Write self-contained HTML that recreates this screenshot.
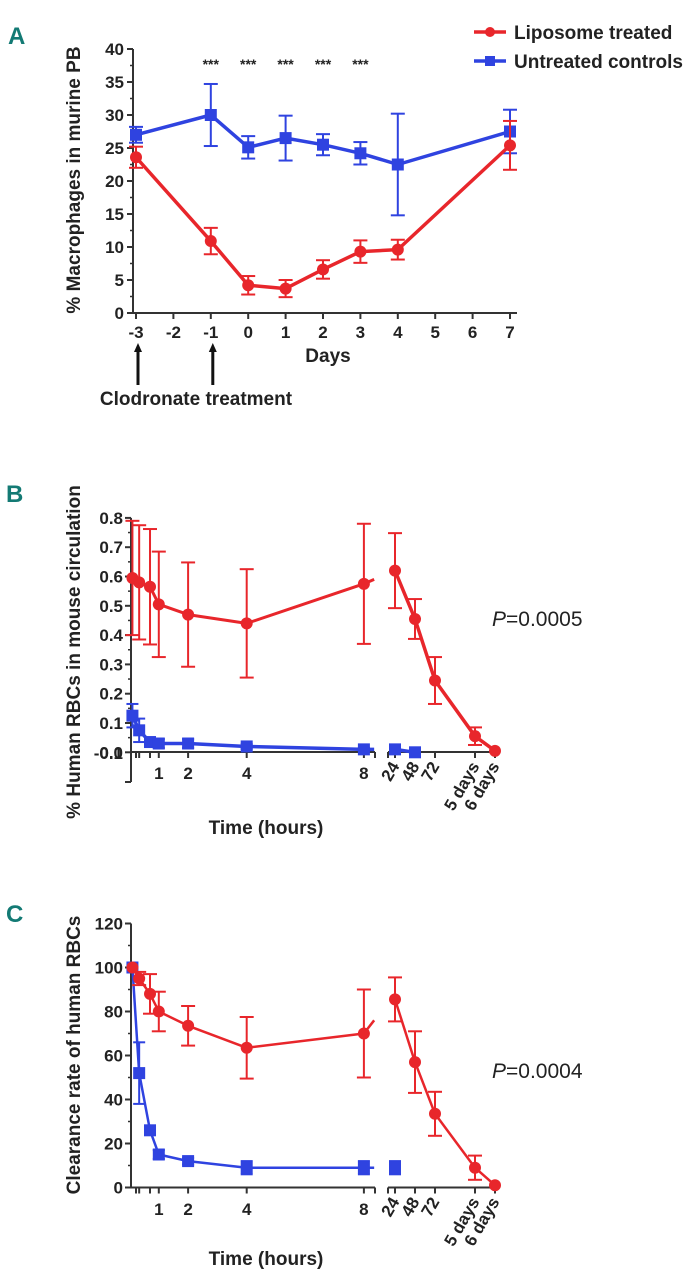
<!DOCTYPE html>
<html><head><meta charset="utf-8"><style>
html,body{margin:0;padding:0;background:#fff;}
svg{display:block;font-family:"Liberation Sans",sans-serif;}
.tk{font-size:17px;font-weight:bold;fill:#222;}
.lab{font-size:19px;font-weight:bold;fill:#222;}
.let{font-size:24px;font-weight:bold;fill:#137a74;}
</style></head><body>
<svg id="fig" width="699" height="1280" viewBox="0 0 699 1280"></svg>
<script>
// ---- Panel A data ----
const aDays = [-3,-1,0,1,2,3,4,7];
const aRed = [23.6,10.9,4.2,3.7,6.6,9.3,9.6,25.4];
const aRedErr = [1.6,2.0,1.4,1.3,1.4,1.7,1.5,3.7];
const aBlue = [27,30,25.1,26.5,25.5,24.2,22.5,27.5];
const aBlueErr = [1.2,4.7,1.7,3.4,1.6,1.7,7.7,3.3];
const aYTicks = [0,5,10,15,20,25,30,35,40];
const aXTicks = [-3,-2,-1,0,1,2,3,4,5,6,7];
const aStarDays = [-1,0,1,2,3];
// ---- Panel B data ----
const bHoursL = [0.1,0.33,0.7,1,2,4,8];
const bRedL = [0.595,0.58,0.565,0.505,0.47,0.44,0.575];
const bRedLErr = [0.195,0.195,0.197,0.18,0.178,0.185,0.205];
const bBlueL = [0.125,0.075,0.035,0.03,0.03,0.02,0.01];
const bBlueLErr = [0.04,0.04,0.01,0.015,0.015,0.008,0.005];
const bHoursR = [24,48,72,120,144];
const bRedR = [0.62,0.455,0.245,0.055,0.005];
const bRedRErr = [0.128,0.068,0.08,0.03,0];
const bBlueHoursR = [24,48];
const bBlueR = [0.01,0.0];
const bYTicks = [0,0.1,0.2,0.3,0.4,0.5,0.6,0.7,0.8];
// ---- Panel C data ----
const cHoursL = [0.1,0.33,0.7,1,2,4,8];
const cRedL = [100,95,88,80,73.5,63.5,70];
const cRedLErr = [0,3,9,9,9,14,20];
const cBlueL = [100,52,26,15,12,9,9];
const cBlueLErr = [0,14,2,2,1.5,3,3];
const cHoursR = [24,48,72,120,144];
const cRedR = [85.5,57,33.5,9,1];
const cRedRErr = [10,14,10,5.5,0];
const cBlueHoursR = [24];
const cBlueR = [9];
const cBlueRErr = [3];
const cYTicks = [0,20,40,60,80,100,120];
const leftHourTicks = [1,2,4,8];
const rightTickLabels = ["24","48","72","5 days","6 days"];

const NS="http://www.w3.org/2000/svg";
const svg=document.getElementById('fig');
const RED="#e8262b", BLUE="#2f43e0";
function el(tag,attrs,parent){const e=document.createElementNS(NS,tag);for(const k in attrs)e.setAttribute(k,attrs[k]);(parent||svg).appendChild(e);return e;}
function txt(x,y,s,cls,anchor,extra){const t=el('text',Object.assign({x:x,y:y,class:cls,'text-anchor':anchor||'middle'},extra||{}));t.textContent=s;return t;}
function line(x1,y1,x2,y2,c,w){return el('line',{x1:x1,y1:y1,x2:x2,y2:y2,stroke:c,'stroke-width':w});}
function lineNode(x1,y1,x2,y2,c,w){const e=document.createElementNS(NS,'line');e.setAttribute('x1',x1);e.setAttribute('y1',y1);e.setAttribute('x2',x2);e.setAttribute('y2',y2);e.setAttribute('stroke',c);e.setAttribute('stroke-width',w);return e;}
function errbar(x,y1,y2,c,cap,w){const g=el('g',{});g.appendChild(lineNode(x,y1,x,y2,c,w));g.appendChild(lineNode(x-cap,y1,x+cap,y1,c,w));g.appendChild(lineNode(x-cap,y2,x+cap,y2,c,w));return g;}
function marker(x,y,c,shape,r){if(shape==='circle')return el('circle',{cx:x,cy:y,r:r,fill:c});return el('rect',{x:x-r,y:y-r,width:2*r,height:2*r,fill:c});}
function series(xs,ys,errs,xf,yf,c,shape,name,lw,cap,r,noLine,tail){
  const g=el('g',{});
  
  
  if(!noLine){let pts=xs.map((x,i)=>xf(x)+','+yf(ys[i]));
    if(tail)pts.push(xf(tail[0])+','+yf(tail[1]));
    const pl=el('polyline',{points:pts.join(' '),fill:'none',stroke:c,'stroke-width':lw,'stroke-linejoin':'round'},g);
    
    }
  xs.forEach((x,i)=>{
    if(errs&&errs[i]>0){const eb=errbar(xf(x),yf(ys[i]+errs[i]),yf(ys[i]-errs[i]),c,cap,2);g.appendChild(eb);
      
      }
    const m=marker(xf(x),yf(ys[i]),c,shape,r);g.appendChild(m);
    
    
  });
  return g;
}

// ===== Panel A =====
const axA=x=>136+(x+3)*37.4, ayA=v=>313-v*6.6;
let t=txt(8,44,'A','let','start');
line(133,ayA(40),133,313,'#333',2);line(133,313,517,313,'#333',2);
aYTicks.forEach(v=>{line(127,ayA(v),133,ayA(v),'#333',2);const l=txt(124,ayA(v)+6,String(v),'tk','end');});
for(let v=2.5;v<40;v+=5)line(130,ayA(v),133,ayA(v),'#333',1.5);
aXTicks.forEach(d=>{line(axA(d),313,axA(d),319,'#333',2);const l=txt(axA(d),338,String(d),'tk');});
t=txt(80,180,'% Macrophages in murine PB','lab','middle',{transform:'rotate(-90 80 180)'});
t=txt(328,362,'Days','lab');
aStarDays.forEach(d=>{const s=txt(axA(d),69,'***','tk','middle',{style:'font-size:14px'});});
series(aDays,aBlue,aBlueErr,axA,ayA,BLUE,'square','a-untreated-series',3.5,7,6);
series(aDays,aRed,aRedErr,axA,ayA,RED,'circle','a-liposome-series',3.5,7,6);
[-3,-1].forEach(d=>{const g=el('g',{});
 g.appendChild(lineNode(axA(d)+2,385,axA(d)+2,350,'#111',3));el('polygon',{points:(axA(d)-2)+',352 '+(axA(d)+6)+',352 '+(axA(d)+2)+',343',fill:'#111'},g);});
t=txt(196,405,'Clodronate treatment','lab');
// legend
let lg=el('g',{});
line(474,32,506,32,RED,3.5);el('circle',{cx:490,cy:32,r:5,fill:RED});
t=txt(514,39,'Liposome treated','lab','start');
line(474,61,506,61,BLUE,3.5);el('rect',{x:485,y:56,width:10,height:10,fill:BLUE});
t=txt(514,68,'Untreated controls','lab','start');

// ===== Panel B / C shared x scale =====
const xL=h=>129.5+29.3*h, xR=h=>395+(h-24)*0.8333;
function hourAxes(y0,yTop,yBottom,tickLabY,prefix){
  line(131,yTop,131,yBottom,'#333',2);
  line(131,y0,375,y0,'#333',2);line(375,y0,375,y0+6,'#333',2);
  [0.33,0.7].concat(leftHourTicks).forEach(h=>line(xL(h),y0,xL(h),y0+6,'#333',2));
  line(136,y0,136,y0+6,'#333',2);
  leftHourTicks.forEach(h=>{const l=txt(xL(h),tickLabY,String(h),'tk');});
  line(388,y0,496,y0,'#333',2);line(388,y0,388,y0+6,'#333',2);
  bHoursR.forEach((h,i)=>{line(xR(h),y0,xR(h),y0+6,'#333',2);
    const l=txt(xR(h)+5,y0+14,rightTickLabels[i],'tk','end',{transform:'rotate(-60 '+(xR(h)+5)+' '+(y0+14)+')'});
    });
}

// ===== Panel B =====
const yB=v=>752.3-v*293;
t=txt(6,502,'B','let','start');
hourAxes(752,yB(0.8),782,779,'b');
bYTicks.forEach(v=>{line(125,yB(v),131,yB(v),'#333',2);const l=txt(123,yB(v)+6,v.toFixed(1),'tk','end');});
for(let v=0.05;v<0.8;v+=0.1)line(128,yB(v),131,yB(v),'#333',1.5);
line(125,782,131,782,'#333',2);
t=txt(123,759,'-0.1','tk','end');
t=txt(80,652,'% Human RBCs in mouse circulation','lab','middle',{transform:'rotate(-90 80 652)'});
t=txt(266,834,'Time (hours)','lab');
series(bHoursL,bBlueL,bBlueLErr,xL,yB,BLUE,'square','b-untreated-series-early',3.5,6,6,false,[8.35,0.01]);
series(bBlueHoursR,bBlueR,null,xR,yB,BLUE,'square','b-untreated-series-late',3.5,6,6);
series(bHoursL,bRedL,bRedLErr,xL,yB,RED,'circle','b-liposome-series-early',3,7,6,false,[8.35,0.59]);
series(bHoursR,bRedR,bRedRErr,xR,yB,RED,'circle','b-liposome-series-late',3.5,7,6);
t=el('text',{x:492,y:626,'text-anchor':'start',style:'font-size:21px;fill:#222'});t.innerHTML='<tspan font-style="italic">P</tspan>=0.0005';

// ===== Panel C =====
const yC=v=>1187.5-v*2.2;
t=txt(6,922,'C','let','start');
hourAxes(1187.5,yC(120),1187.5,1215,'c');
cYTicks.forEach(v=>{line(125,yC(v),131,yC(v),'#333',2);const l=txt(123,yC(v)+6,String(v),'tk','end');});
for(let v=10;v<120;v+=20)line(128,yC(v),131,yC(v),'#333',1.5);
t=txt(80,1055,'Clearance rate of human RBCs','lab','middle',{transform:'rotate(-90 80 1055)'});
t=txt(266,1265,'Time (hours)','lab');
series(cHoursL,cBlueL,cBlueLErr,xL,yC,BLUE,'square','c-untreated-series-early',2.5,6,6,false,[8.35,9]);
series(cBlueHoursR,cBlueR,cBlueRErr,xR,yC,BLUE,'square','c-untreated-series-late',2.5,6,6,true);
series(cHoursL,cRedL,cRedLErr,xL,yC,RED,'circle','c-liposome-series-early',2.5,7,6,false,[8.35,76]);
series(cHoursR,cRedR,cRedRErr,xR,yC,RED,'circle','c-liposome-series-late',2.5,7,6);
t=el('text',{x:492,y:1078,'text-anchor':'start',style:'font-size:21px;fill:#222'});t.innerHTML='<tspan font-style="italic">P</tspan>=0.0004';
</script>
</body></html>
